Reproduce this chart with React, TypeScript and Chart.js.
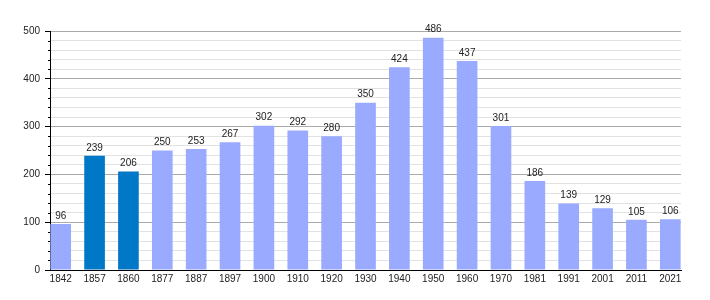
import React, { useEffect, useRef } from "react";
import { Chart, registerables } from "chart.js";

Chart.register(...registerables);

const years = ["1842", "1857", "1860", "1877", "1887", "1897", "1900", "1910", "1920", "1930", "1940", "1950", "1960", "1970", "1981", "1991", "2001", "2011", "2021"];
const population = [96, 239, 206, 250, 253, 267, 302, 292, 280, 350, 424, 486, 437, 301, 186, 139, 129, 105, 106];
const highlightedYears = ["1857", "1860"];
const yMax = 500;
const yMajorStep = 100;
const yMinorStep = 20;

const LIGHT = "#99aaff";
const DARK = "#0078c8";
const FONT = { family: "'Liberation Sans', Arial, sans-serif", size: 10 };

const valueLabels = {
  id: "valueLabels",
  afterDatasetsDraw(chart: any) {
    const ctx = chart.ctx;
    const meta = chart.getDatasetMeta(0);
    ctx.save();
    ctx.font = `${FONT.size}px ${FONT.family}`;
    ctx.fillStyle = "#222";
    ctx.textAlign = "center";
    ctx.textBaseline = "bottom";
    meta.data.forEach((bar: any, i: number) => {
      ctx.fillText(String(population[i]), bar.x, bar.y - 3);
    });
    ctx.restore();
  },
};

// short minor tick marks on the y axis (major ones are drawn by the scale)
const minorTicks = {
  id: "minorTicks",
  afterDraw(chart: any) {
    const y = chart.scales.y;
    const ctx = chart.ctx;
    ctx.save();
    ctx.strokeStyle = "#000";
    ctx.lineWidth = 1;
    ctx.beginPath();
    y.ticks.forEach((t: any) => {
      if (t.value % yMajorStep === 0) return;
      const py = Math.round(y.getPixelForValue(t.value)) + 0.5;
      ctx.moveTo(y.right - 2, py);
      ctx.lineTo(y.right, py);
    });
    ctx.stroke();
    ctx.restore();
  },
};

export default function App() {
  const ref = useRef<HTMLCanvasElement>(null);
  useEffect(() => {
    const chart = new Chart(ref.current!, {
      type: "bar",
      data: {
        datasets: [
          {
            data: population.map((v, i) => ({ x: i, y: v })) as any,
            backgroundColor: years.map((y) => (highlightedYears.includes(y) ? DARK : LIGHT)),
            barPercentage: 0.61,
            categoryPercentage: 1,
          },
        ],
      },
      options: {
        animation: false,
        responsive: false,
        maintainAspectRatio: false,
        layout: { padding: { top: 31, right: 29, left: 0, bottom: 0 } },
        plugins: { legend: { display: false }, tooltip: { enabled: false } },
        scales: {
          x: {
            type: "linear",
            offset: false,
            min: -0.316,
            max: years.length - 1 + 0.316,
            afterBuildTicks: (s: any) => {
              s.ticks = years.map((_, i) => ({ value: i }));
            },
            afterFit: (s: any) => {
              s.height = 30;
            },
            ticks: {
              callback: (v: any) => years[v],
              autoSkip: false,
              maxRotation: 0,
              padding: 3,
              color: "#222",
              font: FONT,
            },
            grid: { display: false, drawTicks: false },
            border: { display: true, color: "#000", width: 1 },
          },
          y: {
            min: 0,
            max: yMax,
            afterFit: (s: any) => {
              s.width = 50;
            },
            ticks: {
              stepSize: yMinorStep,
              autoSkip: false,
              padding: 5,
              color: "#222",
              font: FONT,
              callback: (v: any) => (v % yMajorStep === 0 ? String(v) : ""),
            },
            grid: {
              color: (c: any) => (c.tick && c.tick.value % yMajorStep === 0 ? "#aaaaaa" : "#e2e2e2"),
              tickColor: (c: any) => (c.tick && c.tick.value % yMajorStep === 0 ? "#000" : "rgba(0,0,0,0)"),
              tickLength: 5,
              drawTicks: true,
            },
            border: { display: true, color: "#000", width: 1 },
          },
        },
      } as any,
      plugins: [valueLabels, minorTicks],
    });
    return () => chart.destroy();
  }, []);

  return (
    <div style={{ position: "absolute", left: 0, top: 0, width: 710, height: 300, background: "#fff" }}>
      <canvas ref={ref} width={710} height={300} style={{ width: 710, height: 300 }} />
    </div>
  );
}
